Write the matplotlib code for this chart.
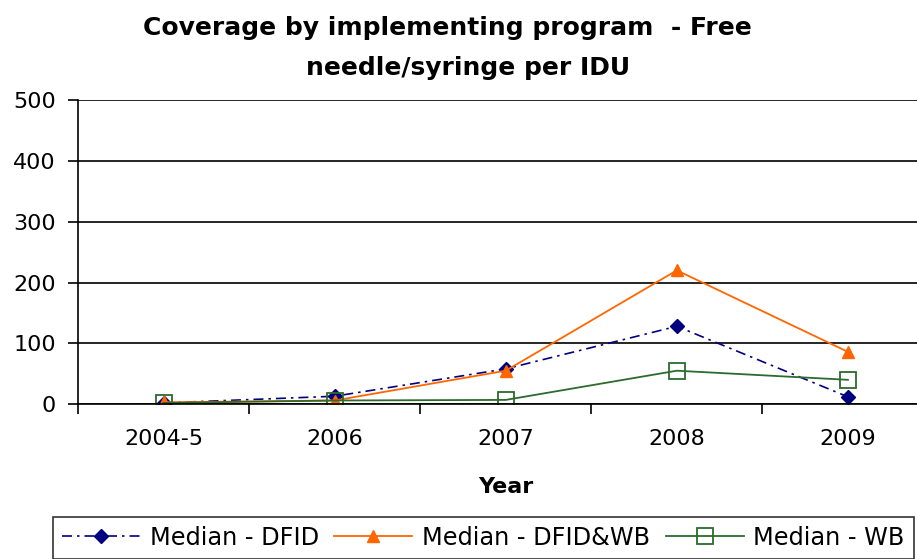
import matplotlib
matplotlib.use('Agg')
import matplotlib.pyplot as plt
import numpy as np

plt.rcParams['font.family'] = ['DejaVu Sans']

years = ['2004-5', '2006', '2007', '2008', '2009']
dfid = [2, 13, 58, 128, 12]
dfid_wb = [3, 6, 55, 220, 86]
wb = [2, 6, 7, 55, 40]

fig = plt.figure(figsize=(9.17, 5.59), dpi=100)
ax = fig.add_axes([0.085, 0.277, 0.933, 0.544])

x = np.arange(len(years))
ax.plot(x, dfid, color='#000080', linestyle=(0, (6, 3, 1.5, 3)), lw=1.2,
        marker='D', markersize=7, label='Median - DFID')
ax.plot(x, dfid_wb, color='#FF6600', lw=1.3,
        marker='^', markersize=9, label='Median - DFID&WB')
ax.plot(x, wb, color='#2D6A2D', lw=1.3, marker='s', markersize=12,
        markerfacecolor='none', markeredgewidth=1.3, label='Median - WB')

ax.set_xlim(-0.5, 4.5)
ax.set_ylim(0, 500)
ax.set_yticks([0, 100, 200, 300, 400, 500])
ax.set_xticks(x)
ax.set_xticklabels(years)
ax.set_xticks(np.arange(-0.5, 5, 1), minor=True)
ax.tick_params(axis='x', which='major', length=0, pad=18, labelsize=16)
ax.tick_params(axis='x', which='minor', length=7, width=1.2, direction='out')
ax.tick_params(axis='y', length=7, width=1.2, labelsize=16, pad=9)

ax.yaxis.grid(True, color='black', lw=1.2)
ax.set_axisbelow(True)
for s in ['top', 'right']:
    ax.spines[s].set_visible(False)
ax.spines['left'].set_linewidth(1.2)
ax.spines['bottom'].set_linewidth(1.2)

ax.set_xlabel('Year', fontsize=16, fontweight='bold', labelpad=20)

fig.text(447 / 917, 1 - 28 / 559, 'Coverage by implementing program  - Free',
         ha='center', va='center', fontsize=18, fontweight='bold')
fig.text(468 / 917, 1 - 68 / 559, 'needle/syringe per IDU',
         ha='center', va='center', fontsize=18, fontweight='bold')

leg = fig.legend(loc='upper left', bbox_to_anchor=(53 / 917, 1 - 517 / 559), ncol=3,
                 fontsize=17.3, frameon=True, fancybox=False, borderpad=0.37,
                 borderaxespad=0, handlelength=3.24, handletextpad=0.41,
                 columnspacing=0.65)
leg.get_frame().set_edgecolor('black')
leg.get_frame().set_linewidth(1.2)

fig.savefig('out.png', dpi=100)
